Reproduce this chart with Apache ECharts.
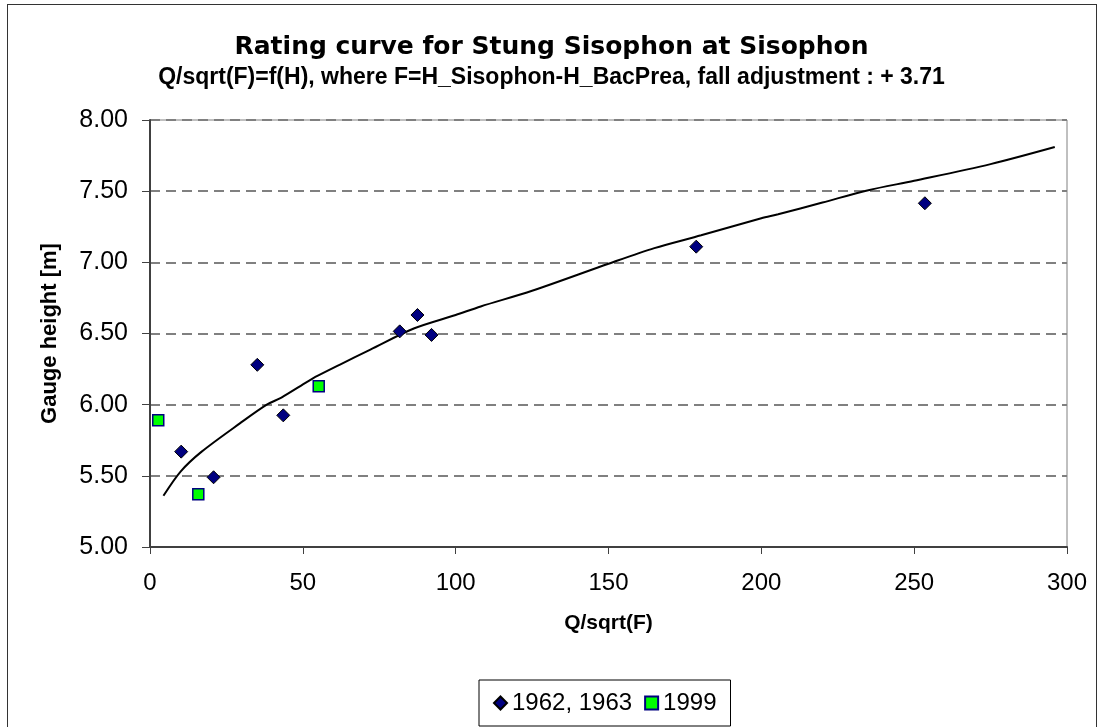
<!DOCTYPE html>
<html>
<head>
<meta charset="utf-8">
<script src="https://cdn.jsdelivr.net/npm/echarts@6/dist/echarts.min.js"></script>
<style>
html,body{margin:0;padding:0;background:#fff;overflow:hidden;}
#frame{position:absolute;left:7px;top:4px;width:1090px;height:730px;border:1px solid #333;box-sizing:border-box;}
#chart{position:absolute;left:0;top:0;width:1103px;height:727px;}
</style>
</head>
<body>
<div id="frame"></div>
<div id="chart"></div>
<script>
const xTicks = [0, 50, 100, 150, 200, 250, 300];
const yTicks = [5.0, 5.5, 6.0, 6.5, 7.0, 7.5, 8.0];

const obs6263_x = [10.2, 20.8, 35.1, 43.6, 81.7, 87.5, 92.1, 178.7, 253.5];
const obs6263_y = [5.67, 5.49, 6.28, 5.925, 6.515, 6.63, 6.49, 7.11, 7.415];

const obs1999_x = [2.7, 15.8, 55.2];
const obs1999_y = [5.89, 5.37, 6.13];

const curve_x = [4.4, 10, 16.9, 29.5, 38.2, 43, 51.4, 54.6, 62, 72.1, 86.3, 100, 108.2, 125, 150, 165, 180.3, 200, 205.5, 220, 235, 250, 275, 296];
const curve_y = [5.36, 5.53, 5.67, 5.87, 6.0, 6.05, 6.16, 6.2, 6.28, 6.387, 6.535, 6.63, 6.69, 6.8, 6.99, 7.1, 7.19, 7.31, 7.338, 7.42, 7.507, 7.573, 7.69, 7.81];

const zip = (a, b) => a.map((v, i) => [v, b[i]]);

const chart = echarts.init(document.getElementById('chart'));
const font = 'Liberation Sans, Arial, sans-serif';
chart.setOption({
  animation: false,
  backgroundColor: 'transparent',
  title: [
    {text: 'Rating curve for Stung Sisophon at Sisophon', left: 'center', top: 30,
     textStyle: {fontFamily: 'DejaVu Sans, sans-serif', fontSize: 25, fontWeight: 'bold', color: '#000'}},
    {text: 'Q/sqrt(F)=f(H), where F=H_Sisophon-H_BacPrea, fall adjustment : + 3.71', left: 'center', top: 61,
     textStyle: {fontFamily: font, fontSize: 23, fontWeight: 'bold', color: '#000'}}
  ],
  grid: {left: 150, top: 120, right: 36, bottom: 180, show: true, borderColor: '#808080', borderWidth: 1},
  legend: {
    data: [
      {name: '1962, 1963', icon: 'diamond'},
      {name: '1999', icon: 'rect'}
    ],
    top: 680, left: 479,
    itemWidth: 13, itemHeight: 13, itemGap: 12,
    borderColor: '#000', borderWidth: 1, borderRadius: 0, padding: [11, 14, 11, 14],
    textStyle: {fontFamily: font, fontSize: 24, color: '#000'}
  },
  xAxis: {
    type: 'value', min: 0, max: 300, interval: 50,
    name: 'Q/sqrt(F)', nameLocation: 'middle', nameGap: 66,
    nameTextStyle: {fontFamily: font, fontSize: 21, fontWeight: 'bold', color: '#000'},
    axisLine: {show: true, lineStyle: {color: '#404040', width: 2}},
    axisTick: {show: true, length: 7, lineStyle: {color: '#404040'}},
    axisLabel: {fontFamily: font, fontSize: 24, color: '#000', margin: 24,
      formatter: v => xTicks.includes(v) ? String(v) : ''},
    splitLine: {show: false}
  },
  yAxis: {
    type: 'value', min: 5, max: 8, interval: 0.5,
    name: 'Gauge height [m]', nameLocation: 'middle', nameGap: 89,
    nameTextStyle: {fontFamily: font, fontSize: 22, fontWeight: 'bold', color: '#000'},
    axisLine: {show: true, lineStyle: {color: '#404040', width: 2}},
    axisTick: {show: true, length: 8, lineStyle: {color: '#404040'}},
    axisLabel: {fontFamily: font, fontSize: 25, color: '#000', margin: 22,
      formatter: v => yTicks.includes(+v.toFixed(2)) ? v.toFixed(2) : ''},
    splitLine: {show: true, lineStyle: {color: '#808080', type: [10, 6], width: 2}}
  },
  series: [
    {
      name: 'curve', type: 'line', data: zip(curve_x, curve_y),
      showSymbol: false, smooth: 0.3, lineStyle: {color: '#000', width: 2}, z: 2
    },
    {
      name: '1962, 1963', type: 'scatter', symbol: 'diamond', symbolSize: 13,
      data: zip(obs6263_x, obs6263_y),
      itemStyle: {color: '#000080', borderColor: '#000', borderWidth: 1, opacity: 1}, z: 3
    },
    {
      name: '1999', type: 'scatter', symbol: 'rect', symbolSize: 11,
      data: zip(obs1999_x, obs1999_y),
      itemStyle: {color: '#00ff00', borderColor: '#000080', borderWidth: 1.5, opacity: 1}, z: 3
    }
  ]
});
</script>
</body>
</html>
